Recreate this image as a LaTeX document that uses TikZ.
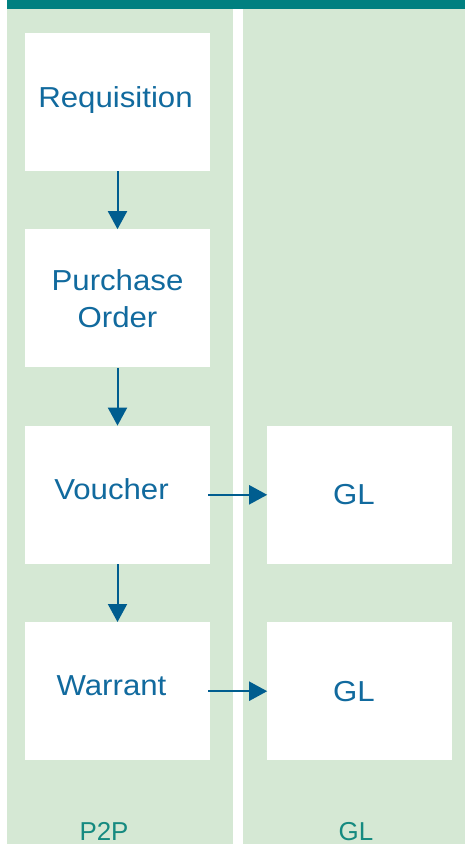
\documentclass[tikz,border=0pt]{standalone}
\usepackage{fontspec}
\setmainfont{Liberation Sans}
\newfontfamily\boxfont{Liberation Sans}[FakeStretch=1.08]
\usetikzlibrary{arrows.meta, positioning}

\definecolor{lanefill}{HTML}{D5E8D4}
\definecolor{bandfill}{HTML}{008080}
\definecolor{boxtext}{HTML}{116A9E}
\definecolor{flowline}{HTML}{005D8F}
\definecolor{lanetext}{HTML}{158A80}

\begin{document}
\begin{tikzpicture}[x=1bp,y=-1bp,>={Triangle[length=18bp,width=19bp]},
  box/.style={fill=white, minimum width=185bp, minimum height=138bp, inner sep=0pt,
    text=boxtext, align=center, font=\boxfont\fontsize{29}{37}\selectfont},
  boxtitle/.style={text=boxtext, font=\boxfont\fontsize{29}{37}\selectfont, xshift=-6bp, yshift=6bp},
  flow/.style={->, draw=flowline, fill=flowline, line width=2bp},
  lanelabel/.style={text=lanetext, anchor=base, font=\fontsize{26}{30}\selectfont},
  node distance=58bp]
  \useasboundingbox (0,0) rectangle (465,844);

  \fill[lanefill] (7,9) rectangle (233,844); % P2P
  \fill[lanefill] (243,9) rectangle (465,844); % GL
  \fill[bandfill] (7,0) rectangle (465,9);

  \node[box, label={[boxtitle, xshift=4bp, yshift=-4bp]center:Requisition}] (req) at (117.5,102) {};
  \node[box, below=of req] (po) {Purchase\\Order};
  \node[box, below=of po, label={[boxtitle]center:Voucher}] (vou) {};
  \node[box, below=of vou, label={[boxtitle]center:Warrant}] (war) {};
  \node[box, right=57bp of vou, label={[boxtitle, yshift=-6bp]center:GL}] (gl1) {};
  \node[box, right=57bp of war, label={[boxtitle, yshift=-6bp]center:GL}] (gl2) {};

  \draw[flow] (req) -- (po);
  \draw[flow] (po) -- (vou);
  \draw[flow] (vou) -- (war);
  \draw[flow] ([xshift=-2bp]vou.east) -- (gl1.west);
  \draw[flow] ([xshift=-2bp]war.east) -- (gl2.west);

  \node[lanelabel] (p2plabel) at (104,840) {P2P};
  \node[lanelabel] (gllabel) at (356,840) {GL};
\end{tikzpicture}
\end{document}
